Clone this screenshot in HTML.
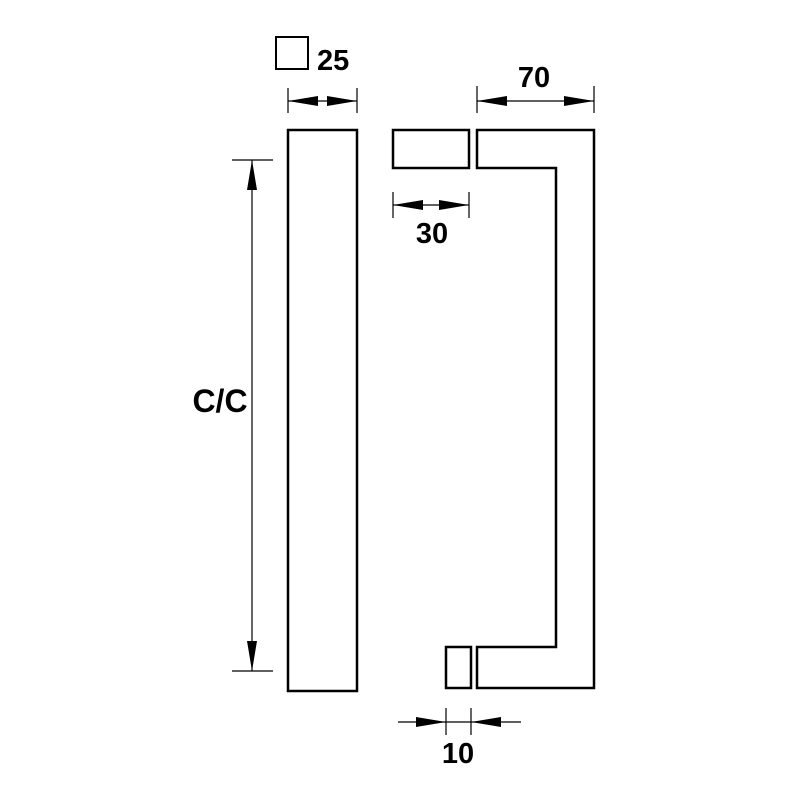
<!DOCTYPE html>
<html><head><meta charset="utf-8"><style>body{margin:0;background:#fff}svg{display:block}</style></head><body>
<svg width="800" height="800" viewBox="0 0 800 800" xmlns="http://www.w3.org/2000/svg">
<g fill="none" stroke="#000" stroke-width="2.5">
<rect x="288" y="130" width="69" height="561"/>
<rect x="276" y="37" width="32" height="32" stroke-width="2"/>
<rect x="393" y="130" width="76" height="38"/>
<path d="M477 130H594V688H477V647H556V168H477Z"/>
<rect x="446" y="647" width="25" height="41"/>
</g>
<g stroke="#000" stroke-width="1.2">
<line x1="288" y1="88" x2="288" y2="113"/><line x1="357" y1="88" x2="357" y2="113"/><line x1="288" y1="101" x2="357" y2="101"/>
<line x1="477" y1="86" x2="477" y2="113"/><line x1="594" y1="86" x2="594" y2="113"/><line x1="477" y1="101" x2="594" y2="101"/>
<line x1="393" y1="192" x2="393" y2="218"/><line x1="469" y1="192" x2="469" y2="218"/><line x1="393" y1="205" x2="469" y2="205"/>
<line x1="446" y1="708" x2="446" y2="735"/><line x1="471" y1="708" x2="471" y2="735"/><line x1="398" y1="722" x2="521" y2="722"/>
<line x1="232" y1="160" x2="273" y2="160"/><line x1="232" y1="671" x2="273" y2="671"/><line x1="252" y1="160" x2="252" y2="671"/>
</g>
<g fill="#000">
<path d="M288 101l30-5v10z"/><path d="M357 101l-30-5v10z"/>
<path d="M477 101l30-5v10z"/><path d="M594 101l-30-5v10z"/>
<path d="M393 205l30-5v10z"/><path d="M469 205l-30-5v10z"/>
<path d="M446 722l-30-5v10z"/><path d="M471 722l30-5v10z"/>
<path d="M252 160l-5 30h10z"/><path d="M252 671l-5-30h10z"/>
</g>
<g font-family="Liberation Sans, sans-serif" font-weight="bold" font-size="29" fill="#000">
<text x="317" y="70">25</text>
<text x="534" y="87" text-anchor="middle">70</text>
<text x="432" y="243" text-anchor="middle">30</text>
<text x="458" y="763" text-anchor="middle">10</text>
<text x="220" y="412" text-anchor="middle" font-size="32">C/C</text>
</g>
</svg>
</body></html>
